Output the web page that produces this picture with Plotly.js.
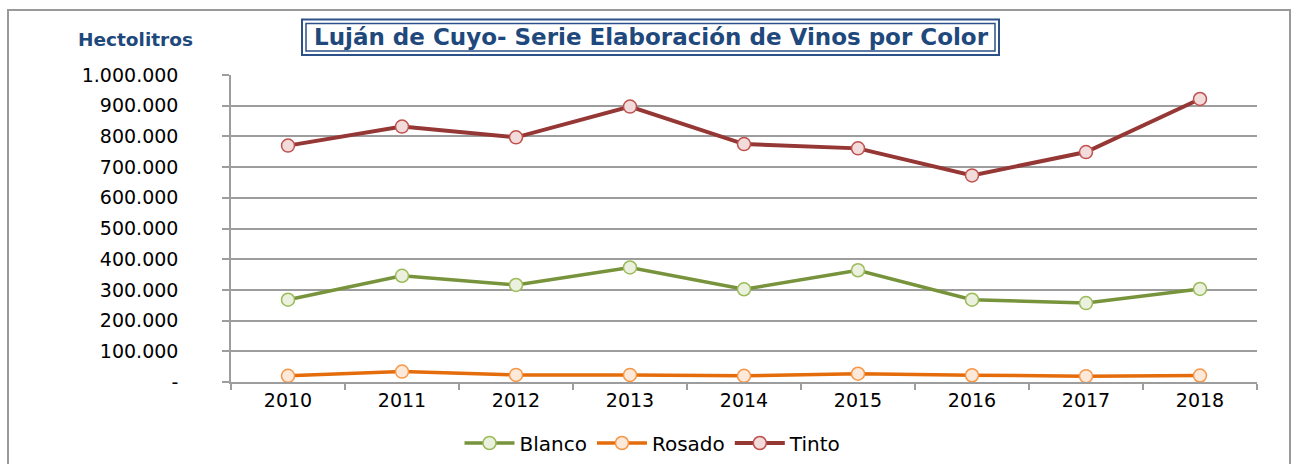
<!DOCTYPE html>
<html>
<head>
<meta charset="utf-8">
<script src="https://cdn.plot.ly/plotly-3.0.1.min.js"></script>
<style>
  html, body { margin: 0; padding: 0; background: #fff; }
  #chart { width: 1293px; height: 464px; }
</style>
</head>
<body>
<div id="chart"></div>
<script>
// ---- Data ----
const years = ["2010", "2011", "2012", "2013", "2014", "2015", "2016", "2017", "2018"];
const blanco = [268000, 346000, 316000, 373000, 302000, 364000, 268000, 257000, 303000];
const rosado = [20000, 34000, 23000, 23000, 20000, 27000, 22000, 19000, 21000];
const tinto  = [770000, 832000, 797000, 897000, 775000, 761000, 673000, 749000, 922000];
const yTickVals = [0, 100000, 200000, 300000, 400000, 500000, 600000, 700000, 800000, 900000, 1000000];
const yTickText = ["-", "100.000", "200.000", "300.000", "400.000", "500.000", "600.000", "700.000", "800.000", "900.000", "1.000.000"];
const chartTitle = "Luján de Cuyo- Serie Elaboración de Vinos por Color";
const yLabel = "Hectolitros";

// ---- Layout geometry ----
const W = 1293, H = 464;
const M = { l: 231, r: 36, t: 75, b: 82 };
const pw = W - M.l - M.r, ph = H - M.t - M.b;
const px = x => (x - M.l) / pw;
const py = y => (H - M.b - y) / ph;

const FONT = "DejaVu Sans, Arial, sans-serif";
const BLUE = "#1F497D";
const GRID = "#9d9d9d";

function series(name, y, line, fill, edge, lw) {
  return {
    type: "scatter", mode: "lines+markers", name: name,
    x: years, y: y,
    line: { color: line, width: lw },
    marker: { symbol: "circle", size: 13, color: fill, line: { color: edge, width: 1.5 } },
    hoverinfo: "x+y"
  };
}

const data = [
  series("Blanco", blanco, "#77933C", "#EBF1DE", "#9BBB59", 3.5),
  series("Rosado", rosado, "#E46C0A", "#FDE9D9", "#F79646", 3.5),
  series("Tinto",  tinto,  "#953735", "#F2DCDB", "#C0504D", 4)
];

const layout = {
  width: W, height: H,
  margin: M,
  paper_bgcolor: "#fff", plot_bgcolor: "#fff",
  font: { family: FONT, color: "#000" },
  showlegend: true,
  title: {
    text: "<b>" + chartTitle + "</b>",
    font: { family: FONT, size: 23, color: BLUE },
    xref: "container", yref: "container",
    x: 651 / W, y: 1 - 37 / H, xanchor: "center", yanchor: "middle"
  },
  xaxis: {
    type: "category",
    range: [-0.5, 8.5],
    showgrid: false, zeroline: false,
    showline: true, linecolor: GRID, linewidth: 1.5,
    ticks: "outside", tickson: "boundaries", ticklen: 6, tickcolor: GRID, tickwidth: 1.5,
    tickfont: { family: FONT, size: 19, color: "#000" },
    fixedrange: true
  },
  yaxis: {
    range: [0, 1000000],
    tickmode: "array", tickvals: yTickVals, ticktext: yTickText,
    showgrid: true, gridcolor: GRID, gridwidth: 1.5,
    zeroline: false,
    showline: true, linecolor: GRID, linewidth: 1.5,
    ticks: "outside", ticklen: 7, tickcolor: GRID, tickwidth: 1.5,
    ticklabelstandoff: 40,
    tickfont: { family: FONT, size: 19, color: "#000" },
    fixedrange: true
  },
  legend: {
    orientation: "h",
    xref: "container", yref: "container",
    x: 653 / W, y: 1 - 443 / H, xanchor: "center", yanchor: "middle",
    font: { family: FONT, size: 20, color: "#000" },
    itemwidth: 50,
    tracegroupgap: 0,
    bgcolor: "rgba(0,0,0,0)"
  },
  annotations: [{
    text: "<b>" + yLabel + "</b>",
    xref: "paper", yref: "paper",
    x: px(135.5), y: py(40), xanchor: "center", yanchor: "middle",
    showarrow: false,
    font: { family: FONT, size: 18.5, color: BLUE }
  }],
  shapes: [
    // outer chart frame
    { type: "rect", xref: "paper", yref: "paper", layer: "below",
      x0: px(8), x1: px(1290), y0: py(470), y1: py(10),
      line: { color: "#9a9a9a", width: 2 }, fillcolor: "rgba(0,0,0,0)" },
    // title double border: outer
    { type: "rect", xref: "paper", yref: "paper",
      x0: px(302), x1: px(999), y0: py(55), y1: py(19.5),
      line: { color: "#2B5188", width: 2 }, fillcolor: "rgba(0,0,0,0)" },
    // title double border: inner
    { type: "rect", xref: "paper", yref: "paper",
      x0: px(306), x1: px(995), y0: py(51), y1: py(23.5),
      line: { color: "#2B5188", width: 1.5 }, fillcolor: "rgba(0,0,0,0)" }
  ]
};

Plotly.newPlot("chart", data, layout, { displayModeBar: false, staticPlot: false, responsive: false });
</script>
</body>
</html>
